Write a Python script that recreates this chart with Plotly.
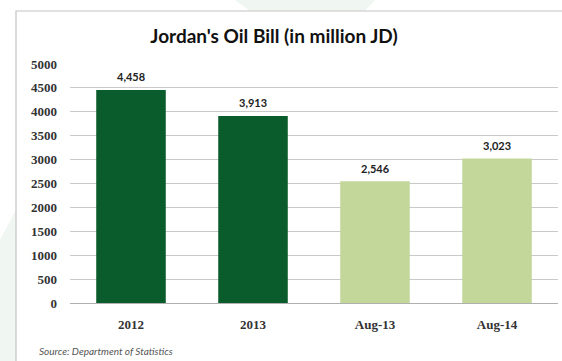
import plotly.graph_objects as go

categories = ["2012", "2013", "Aug-13", "Aug-14"]
values = [4458, 3913, 2546, 3023]
bar_colors = ["#0b5c2c", "#0b5c2c", "#c4d79b", "#c4d79b"]
y_ticks = [0, 500, 1000, 1500, 2000, 2500, 3000, 3500, 4000, 4500, 5000]

W, H = 562, 361
L, R, T, B = 70, 4, 64, 58
pw, ph = W - L - R, H - T - B

def px(x):
    return (x - L) / pw

def py(y):
    return (H - B - y) / ph

fig = go.Figure()
fig.add_trace(go.Bar(
    x=categories, y=values, marker=dict(color=bar_colors, line=dict(width=0)),
    hoverinfo="skip",
))

shapes = [
    dict(type="path", xref="paper", yref="paper",
         path=f"M {px(235)} {py(0)} L {px(375)} {py(0)} L {px(365)} {py(11)} L {px(250)} {py(11)} Z",
         fillcolor="#f0f6f1", line=dict(width=0), layer="below"),
    dict(type="path", xref="paper", yref="paper",
         path=f"M {px(0)} {py(240)} L {px(16)} {py(210)} L {px(16)} {py(361)} L {px(0)} {py(361)} Z",
         fillcolor="#f0f6f1", line=dict(width=0), layer="below"),
    dict(type="rect", xref="paper", yref="paper",
         x0=px(16), x1=px(575), y0=py(375), y1=py(11),
         line=dict(color="#c4c4c4", width=1.2), fillcolor="rgba(0,0,0,0)", layer="below"),
]

# data labels placed on the category axis by category index
annotations = [
    dict(x=i, y=v, xref="x", yref="y", text=f"{v:,}", showarrow=False,
         yanchor="middle", yshift=13,
         font=dict(family="Lato", size=11, color="#222222", weight="bold"))
    for i, v in enumerate(values)
]
annotations.append(dict(text="<i>Source: Department of Statistics</i>", xref="paper", yref="paper",
                        x=px(37), y=py(351), xanchor="left", yanchor="middle", showarrow=False,
                        font=dict(family="Lato", size=10, color="#555555")))

fig.update_layout(
    width=W, height=H,
    margin=dict(l=L, r=R, t=T, b=B),
    paper_bgcolor="white", plot_bgcolor="white",
    bargap=0.43,
    showlegend=False,
    shapes=shapes,
    title=dict(text="Jordan's Oil Bill (in million JD)", x=274 / W, xanchor="center",
               y=1 - 36 / H, yanchor="middle",
               font=dict(family="Lato", size=19, color="#111111", weight="bold")),
    xaxis=dict(type="category", categoryorder="array", categoryarray=categories,
               showgrid=False, showline=True, linecolor="#b0b0b0", linewidth=1,
               ticks="", tickfont=dict(family="Liberation Serif", size=13, color="#333333", weight="bold"),
               ticklabelstandoff=9, fixedrange=True),
    yaxis=dict(range=[0, 5000], tickvals=y_ticks, showgrid=True, gridcolor="#c9c9c9", gridwidth=1,
               zeroline=False, showline=False, ticks="",
               tickfont=dict(family="Liberation Serif", size=13, color="#333333", weight="bold"),
               ticklabelstandoff=12, fixedrange=True),
    annotations=annotations,
)

fig.write_html("out.html")
